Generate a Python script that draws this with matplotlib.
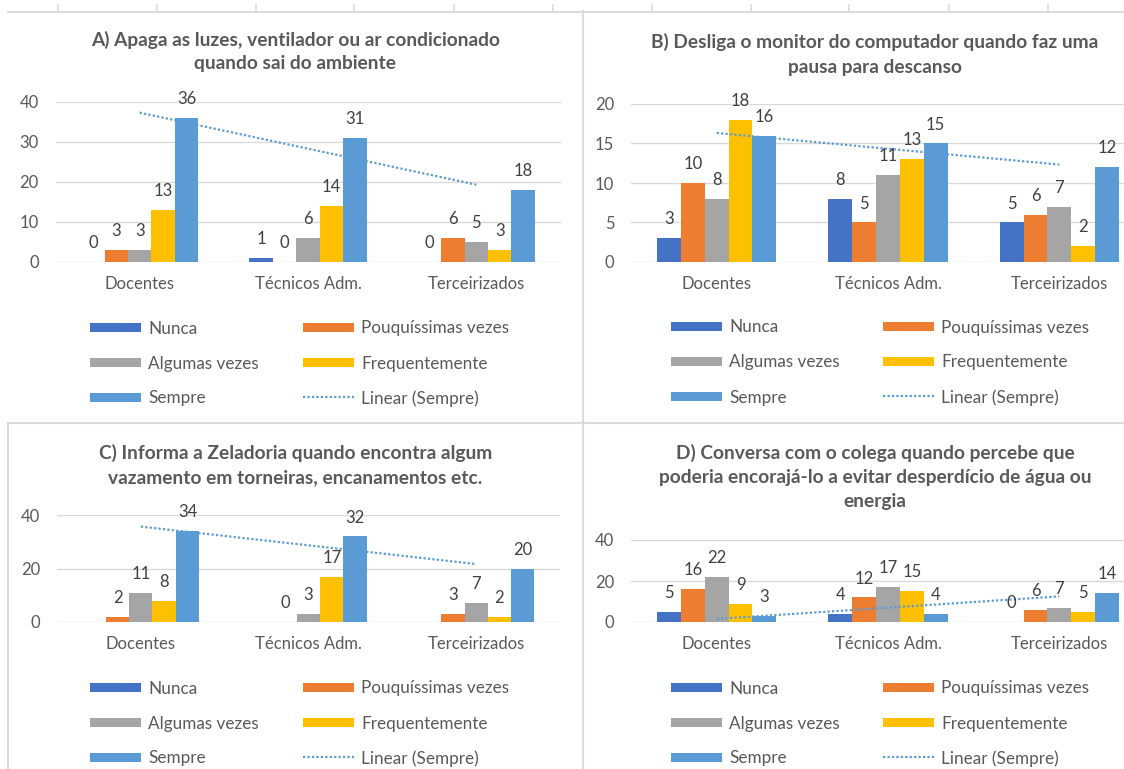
import matplotlib

matplotlib.use("Agg")
import matplotlib.pyplot as plt
import numpy as np
from matplotlib.lines import Line2D
from matplotlib.patches import Rectangle
from matplotlib.transforms import Affine2D

plt.rcParams["font.family"] = ["Lato", "DejaVu Sans"]

W, H = 1124, 769

CATEGORIES = ["Docentes", "Técnicos Adm.", "Terceirizados"]
SERIES = ["Nunca", "Pouquíssimas vezes", "Algumas vezes", "Frequentemente", "Sempre"]
TREND_LABEL = "Linear (Sempre)"
COLORS = ["#4472C4", "#ED7D31", "#A5A5A5", "#FFC000", "#5B9BD5"]

# one row per series (Nunca .. Sempre), one column per category
A_TITLE = ["A) Apaga as luzes, ventilador ou ar condicionado", "quando sai do ambiente"]
A_VALUES = [
    [0, 1, 0],
    [3, 0, 6],
    [3, 6, 5],
    [13, 14, 3],
    [36, 31, 18],
]
A_YTICKS = [0, 10, 20, 30, 40]

B_TITLE = ["B) Desliga o monitor do computador quando faz uma", "pausa para descanso"]
B_VALUES = [
    [3, 8, 5],
    [10, 5, 6],
    [8, 11, 7],
    [18, 13, 2],
    [16, 15, 12],
]
B_YTICKS = [0, 5, 10, 15, 20]

C_TITLE = ["C) Informa a Zeladoria quando encontra algum",
           "vazamento em torneiras, encanamentos etc."]
C_VALUES = [
    [None, None, None],
    [2, 0, 3],
    [11, 3, 7],
    [8, 17, 2],
    [34, 32, 20],
]
C_YTICKS = [0, 20, 40]

D_TITLE = ["D) Conversa com o colega quando percebe que",
           "poderia encorajá-lo a evitar desperdício de água ou",
           "energia"]
D_VALUES = [
    [5, 4, 0],
    [16, 12, 6],
    [22, 17, 7],
    [9, 15, 5],
    [3, 4, 14],
]
D_YTICKS = [0, 20, 40]

TEXT = "#595959"
GRID = "#D9D9D9"
BORDER = "#DCDCDC"


def px_axes(fig, left, top, right, bottom):
    return fig.add_axes([left / W, 1 - bottom / H, (right - left) / W, (bottom - top) / H])


def draw_panel(fig, px, title, values, yticks, axes_box, title_x, title_ys, leg_x, leg_ys):
    ax = px_axes(fig, *axes_box)
    n = len(SERIES)
    width = 1 / (n + 2.19)
    x = np.arange(len(CATEGORIES))

    for i, (color, vals) in enumerate(zip(COLORS, values)):
        vals = np.array([np.nan if v is None else v for v in vals], dtype=float)
        pos = x + (i - (n - 1) / 2) * width
        ax.bar(pos, np.nan_to_num(vals), width, color=color, linewidth=0, zorder=2)
        for xp, v in zip(pos, vals):
            if np.isfinite(v):
                ax.annotate(f"{v:.0f}", (xp, v), xytext=(0, 10), textcoords="offset points",
                            ha="center", va="baseline", fontsize=12, color="#404040", zorder=4)

    sempre = np.array(values[-1], dtype=float)
    coef = np.polyfit(x + 1, sempre, 1)
    ax.plot(x, np.polyval(coef, x + 1), color=COLORS[-1], lw=1.6, ls=(0, (1, 1)), zorder=3)

    ax.set_xlim(-0.5, len(CATEGORIES) - 0.5)
    ax.set_ylim(yticks[0], yticks[-1])
    ax.set_yticks(yticks)
    ax.set_xticks(x, CATEGORIES)
    ax.grid(axis="y", color=GRID, linewidth=1.0, zorder=0)
    ax.set_axisbelow(True)
    for spine in ax.spines.values():
        spine.set_visible(False)
    ax.tick_params(axis="both", length=0, labelsize=12, labelcolor=TEXT)
    ax.tick_params(axis="y", pad=12)
    ax.tick_params(axis="x", pad=10)

    for line, y in zip(title, title_ys):
        fig.text(title_x, y, line, transform=px, ha="center", va="center",
                 fontsize=13.8, fontweight="bold", color=TEXT)

    # legend laid out row by row, two columns, like the Excel chart
    entries = [(name, COLORS[i]) for i, name in enumerate(SERIES)] + [(TREND_LABEL, None)]
    for k, (name, color) in enumerate(entries):
        x0 = leg_x[k % 2]
        y0 = leg_ys[k // 2]
        if color is None:
            fig.add_artist(Line2D([x0, x0 + 51], [y0, y0], transform=px, color=COLORS[-1],
                                  lw=1.6, ls=(0, (1, 1))))
        else:
            fig.add_artist(Rectangle((x0, y0 - 4.5), 51, 9, transform=px, color=color, lw=0))
        fig.text(x0 + 58, y0, name, transform=px, ha="left", va="center_baseline",
                 fontsize=12.3, color=TEXT)
    return ax


fig = plt.figure(figsize=(W / 100, H / 100), dpi=100)
px = Affine2D().scale(1 / W, -1 / H).translate(0, 1) + fig.transFigure

# worksheet grid and chart borders
for xt in [58, 157, 256, 354, 454, 553, 652, 751, 849, 949, 1048]:
    fig.add_artist(Line2D([xt, xt], [5, 11], transform=px, color=BORDER, lw=1.2))
fig.add_artist(Line2D([8, W], [11.5, 11.5], transform=px, color=BORDER, lw=1.5))
fig.add_artist(Line2D([583, 583], [11, H], transform=px, color=BORDER, lw=1.5))
fig.add_artist(Line2D([8, W], [423, 423], transform=px, color=BORDER, lw=1.5))
fig.add_artist(Line2D([8, 8], [423, H], transform=px, color=BORDER, lw=1.5))

draw_panel(fig, px, A_TITLE, A_VALUES, A_YTICKS, (55.5, 102, 560.5, 262),
           295.5, [40, 64], [90, 303], [327, 362, 397])
draw_panel(fig, px, B_TITLE, B_VALUES, B_YTICKS, (631, 104, 1145, 262),
           875, [42, 67], [671, 883], [326, 361, 396])
draw_panel(fig, px, C_TITLE, C_VALUES, C_YTICKS, (57, 515, 560, 622),
           295.5, [453, 478], [90, 303], [687, 722, 757])
draw_panel(fig, px, D_TITLE, D_VALUES, D_YTICKS, (631, 540, 1145, 622),
           875, [453, 478, 502], [671, 883], [687, 722, 757])

fig.savefig("out.png", dpi=100)
